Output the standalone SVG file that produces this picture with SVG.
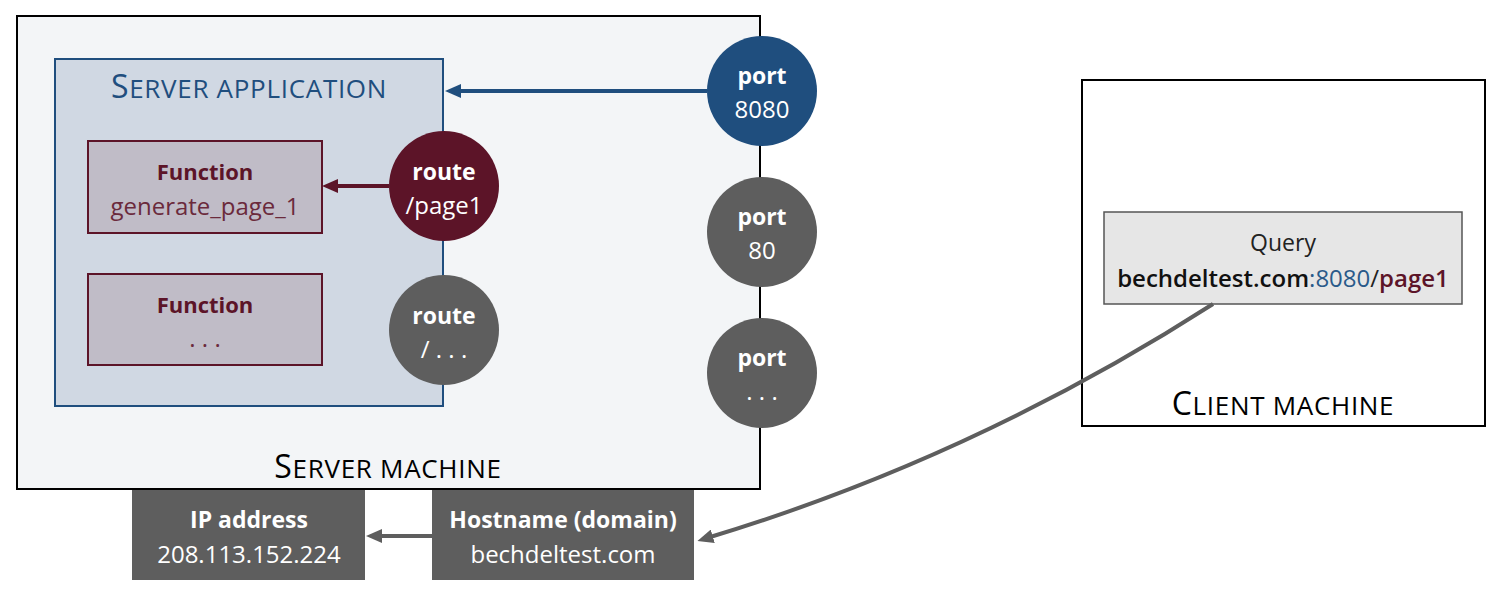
<svg xmlns="http://www.w3.org/2000/svg" width="1511" height="601" viewBox="0 0 1511 601">
<defs>
<style>
text{font-family:"Open Sans","Liberation Sans",sans-serif;text-anchor:middle}
.b{font-weight:700;font-size:23px}
.r{font-size:24px}
.w{fill:#ffffff}
.m{fill:#5c1428}
.ml{fill:#6b2a3c}
.cap{fill:#1f4e7e}
.sc{font-size:32px;letter-spacing:0.7px}
.sc tspan.s{font-size:26px}
</style>
<marker id="ab" viewBox="0 0 16 14" refX="6" refY="7" markerWidth="16" markerHeight="14" markerUnits="userSpaceOnUse" orient="auto"><path d="M0,0 L16,7 L0,14 Z" fill="#1f4e7e"/></marker>
<marker id="am" viewBox="0 0 16 14" refX="6" refY="7" markerWidth="16" markerHeight="14" markerUnits="userSpaceOnUse" orient="auto"><path d="M0,0 L16,7 L0,14 Z" fill="#5c1428"/></marker>
<marker id="ag" viewBox="0 0 16 14" refX="6" refY="7" markerWidth="16" markerHeight="14" markerUnits="userSpaceOnUse" orient="auto"><path d="M0,0 L16,7 L0,14 Z" fill="#5e5e5e"/></marker>
</defs>
<rect width="1511" height="601" fill="#ffffff"/>

<g id="server-machine">
<rect x="17" y="16" width="743" height="473" fill="#f3f5f7" stroke="#000" stroke-width="2"/>
<text x="388" y="478" class="sc" fill="#000">S<tspan class="s">ERVER MACHINE</tspan></text>
</g>

<g id="server-application">
<rect x="55" y="59" width="388" height="347" fill="#d0d8e3" stroke="#1f4e7e" stroke-width="2"/>
<text x="249" y="98" class="sc cap">S<tspan class="s">ERVER APPLICATION</tspan></text>
</g>

<g id="function-1">
<rect x="88" y="141" width="234" height="92" fill="#c0bcc7" stroke="#5c1428" stroke-width="2"/>
<text x="205" y="180" class="b m" style="font-size:22px">Function</text>
<text x="205" y="215" class="r ml">generate_page_1</text>
</g>

<g id="function-2">
<rect x="88" y="274" width="234" height="91" fill="#c0bcc7" stroke="#5c1428" stroke-width="2"/>
<text x="205" y="313" class="b m" style="font-size:22px">Function</text>
<text x="205" y="347" class="r ml">. . .</text>
</g>

<g id="route-page1">
<circle cx="444" cy="186" r="55" fill="#5c1428"/>
<text x="444" y="180" class="b w">route</text>
<text x="444" y="214" class="r w">/page1</text>
</g>

<g id="route-other">
<circle cx="444" cy="330" r="55" fill="#5e5e5e"/>
<text x="444" y="324" class="b w">route</text>
<text x="444" y="358" class="r w">/ . . .</text>
</g>

<g id="port-8080">
<circle cx="762" cy="91" r="55" fill="#1f4e7e"/>
<text x="762" y="84" class="b w">port</text>
<text x="762" y="118" class="r w">8080</text>
</g>

<g id="port-80">
<circle cx="762" cy="232" r="55" fill="#5e5e5e"/>
<text x="762" y="225" class="b w">port</text>
<text x="762" y="259" class="r w">80</text>
</g>

<g id="port-other">
<circle cx="762" cy="373" r="55" fill="#5e5e5e"/>
<text x="762" y="366" class="b w">port</text>
<text x="762" y="400" class="r w">. . .</text>
</g>

<g id="client-machine">
<rect x="1082" y="80" width="403" height="346" fill="#ffffff" stroke="#000" stroke-width="2"/>
<text x="1283" y="415" class="sc" fill="#000">C<tspan class="s">LIENT MACHINE</tspan></text>
</g>

<g id="query">
<rect x="1104" y="212" width="358" height="92" fill="#e6e6e6" stroke="#555" stroke-width="1.5"/>
<text x="1283" y="251" font-size="23" fill="#222">Query</text>
<text x="1283" y="287" class="r"><tspan fill="#111" font-weight="600">bechdeltest.com</tspan><tspan fill="#2a5a8a">:8080</tspan><tspan fill="#222">/</tspan><tspan fill="#5c1428" font-weight="600">page1</tspan></text>
</g>

<g id="ip-address">
<rect x="132" y="490" width="233" height="90" fill="#5e5e5e"/>
<text x="249" y="528" class="b w">IP address</text>
<text x="249" y="563" class="r w">208.113.152.224</text>
</g>

<g id="hostname">
<rect x="432" y="490" width="262" height="90" fill="#5e5e5e"/>
<text x="563" y="528" class="b w">Hostname (domain)</text>
<text x="563" y="563" class="r w">bechdeltest.com</text>
</g>

<g id="connectors" fill="none">
<path d="M707,91 L455,91" stroke="#1f4e7e" stroke-width="4" marker-end="url(#ab)"/>
<path d="M389,186 L332,186" stroke="#5c1428" stroke-width="4" marker-end="url(#am)"/>
<path d="M432,536 L376,536" stroke="#5e5e5e" stroke-width="4" marker-end="url(#ag)"/>
<path d="M1213,304 Q973,458 707,538" stroke="#5e5e5e" stroke-width="4" marker-end="url(#ag)"/>
</g>
</svg>
